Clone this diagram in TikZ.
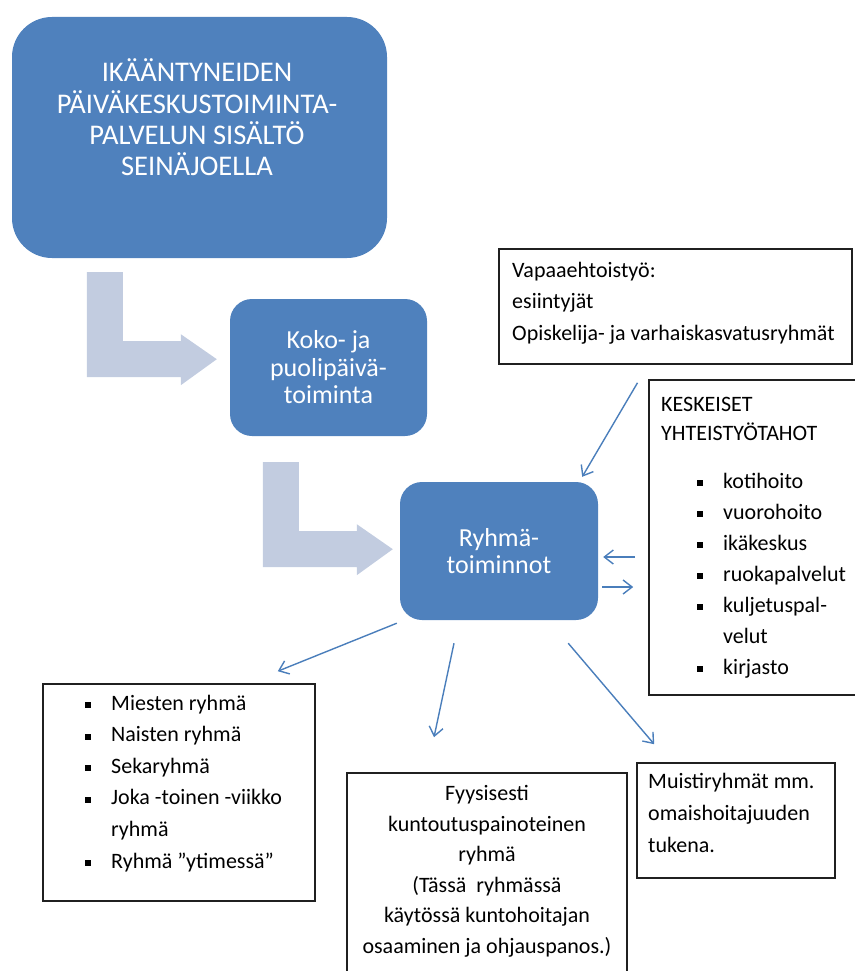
\documentclass[tikz,border=0pt]{standalone}
\usepackage{fontspec}
\setmainfont{Carlito}
\usepackage{tikz}
\usetikzlibrary{arrows.meta,positioning,calc}
\definecolor{boxblue}{HTML}{4F81BD}
\definecolor{bentgray}{HTML}{C2CCE0}
\definecolor{linkblue}{HTML}{4A7EBB}
\definecolor{ink}{HTML}{202020}
\newcommand{\sqbul}{\makebox[26pt][l]{\rule[2pt]{6pt}{6pt}}}
\newcommand{\bentarrow}[1]{%
  \fill[bentfill,shift={#1}] (0,0) -- (36,0) -- (36,69) -- (94,69) -- (94,62)
    -- (130,87) -- (94,113) -- (94,105) -- (0,105) -- cycle;}
\tikzset{
  bluebox/.style={
    fill=boxblue, rounded corners=22pt, text=white, align=center,
    inner sep=0pt, font=\fontsize{26}{27.5}\selectfont
  },
  titletext/.style={
    text=white, align=center, inner sep=0pt, anchor=base,
    font=\fontsize{28.5}{31}\selectfont
  },
  notebox/.style={
    draw=ink, line width=1.6pt, fill=white, inner sep=0pt
  },
  notetext/.style={
    inner sep=0pt, anchor=base west, align=left,
    font=\fontsize{22}{31.5}\selectfont
  },
  bentfill/.style={fill=bentgray},
  link/.style={
    draw=linkblue, line width=1.4pt,
    -{Straight Barb[length=9pt,width=14pt]}
  }
}

\begin{document}
\begin{tikzpicture}[x=1pt,y=-1pt]
  \useasboundingbox (0,0) rectangle (854,971);

  % blue chain
  \node[bluebox,rounded corners=40pt,minimum width=375pt,minimum height=241pt]
    (title) at (199.5,137.5) {};
  \node[titletext] (titletxt) at (197,175)
    {IKÄÄNTYNEIDEN\\PÄIVÄKESKUSTOIMINTA-\\PALVELUN SISÄLTÖ\\SEINÄJOELLA};
  \node[bluebox,minimum width=197pt,minimum height=137pt]
    (koko) at (328.5,367.5) {Koko- ja\\puolipäivä-\\toiminta};
  \node[bluebox,minimum width=198pt,minimum height=138pt]
    (ryhma) at (499,551) {Ryhmä-\\toiminnot};

  \bentarrow{($(title.south west)+(75,14)$)}
  \bentarrow{($(koko.south west)+(33,26)$)}

  % note boxes
  \node[notebox,minimum width=353pt,minimum height=115pt]
    (vapaa) at (675.5,306.5) {};
  \node[notetext] (vapaatxt) at (512,340)
    {Vapaaehtoistyö:\\esiintyjät\\Opiskelija- ja varhaiskasvatusryhmät};

  \node[notebox,minimum width=221pt,minimum height=315pt]
    (keskeiset) at (759.5,537.5) {};
  \node[notetext,font=\fontsize{22}{31}\selectfont] (keskeisettxt) at (661,674)
    {KESKEISET\\[-2pt]YHTEISTYÖTAHOT\\[17pt]
     \hspace*{36pt}\sqbul kotihoito\\
     \hspace*{36pt}\sqbul vuorohoito\\
     \hspace*{36pt}\sqbul ikäkeskus\\
     \hspace*{36pt}\sqbul ruokapalvelut\\
     \hspace*{36pt}\sqbul kuljetuspal-\\
     \hspace*{62pt}velut\\
     \hspace*{36pt}\sqbul kirjasto};

  \node[notebox,minimum width=272pt,minimum height=217pt]
    (miesten) at (179,792.5) {};
  \node[notetext,font=\fontsize{22}{31.6}\selectfont] (miestentxt) at (85,868)
    {\sqbul Miesten ryhmä\\
     \sqbul Naisten ryhmä\\
     \sqbul Sekaryhmä\\
     \sqbul Joka -toinen -viikko\\
     \hspace*{26pt}ryhmä\\
     \sqbul Ryhmä ”ytimessä”};

  \node[notebox,minimum width=280pt,minimum height=222pt]
    (fyys) at (487,884) {};
  \node[notetext,anchor=base,align=center,font=\fontsize{22}{30.5}\selectfont]
    (fyystxt) at (487,953)
    {Fyysisesti\\kuntoutuspainoteinen\\ryhmä\\(Tässä\ \ ryhmässä\\
     käytössä kuntohoitajan\\osaaminen ja ohjauspanos.)};

  \node[notebox,minimum width=198pt,minimum height=115pt]
    (muisti) at (736,820.5) {};
  \node[notetext,font=\fontsize{22}{32}\selectfont] (muistitxt) at (648,852)
    {Muistiryhmät mm.\\omaishoitajuuden\\tukena.};

  % connectors
  \draw[link] ($(vapaa.south)+(-38,18)$) -- ($(ryhma.north east)+(-16,-5)$);
  \draw[link] ($(keskeiset.west)+(-13,19.5)$) -- ($(ryhma.east)+(5,6)$);
  \draw[link] ($(ryhma.east)+(4,36)$) -- ($(keskeiset.west)+(-15,49.5)$);
  \draw[link] ($(ryhma.south west)+(-3,3)$) -- ($(miesten.north east)+(-38,-12)$);
  \draw[link] ($(ryhma.south)+(-45,23)$) -- ($(fyys.north)+(-53,-35)$);
  \draw[link] ($(ryhma.south east)+(-30,23)$) -- ($(muisti.north west)+(18,-18)$);
\end{tikzpicture}
\end{document}
